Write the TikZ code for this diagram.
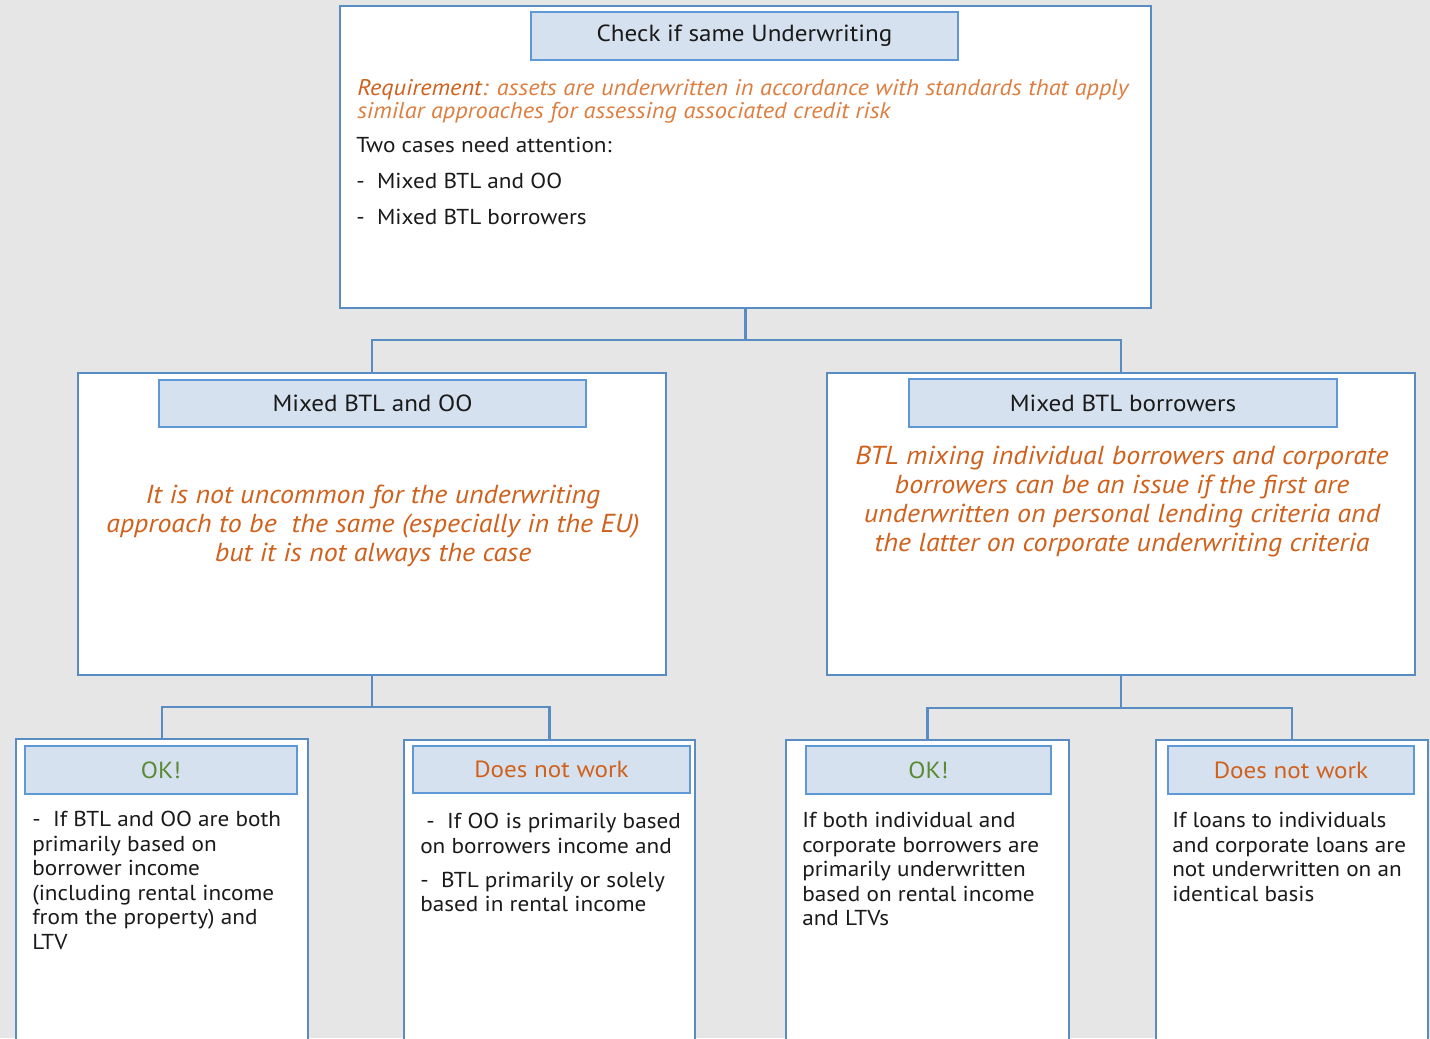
\documentclass[tikz,border=0pt]{standalone}
\usepackage{fontspec}
\setmainfont{PT Sans}[FakeStretch=1.075]
\definecolor{bg}{HTML}{E6E6E6}
\definecolor{bdr}{HTML}{5A8CC4}
\definecolor{hbdr}{HTML}{5E98D6}
\definecolor{hfill}{HTML}{D6E1EF}
\definecolor{orA}{HTML}{DD7E40}
\definecolor{orB}{HTML}{D0611C}
\definecolor{okg}{HTML}{5B8A34}
\definecolor{txt}{HTML}{1A1A1A}
\begin{document}
\begin{tikzpicture}[x=0.75pt,y=-0.75pt,
  sz/.style 2 args={minimum width=#1*0.75pt, minimum height=#2*0.75pt},
  box/.style={draw=bdr, fill=white, line width=1.5pt, anchor=north west, inner sep=0pt, outer sep=0pt, rectangle},
  hdr/.style={draw=hbdr, fill=hfill, line width=1.8pt, anchor=north west, inner sep=0pt, outer sep=0pt, rectangle, text=txt, font=\fontsize{17.5}{20}\selectfont},
  conn/.style={draw=bdr, line width=2pt},
  body/.style={anchor=north west, inner sep=0pt, align=left, text=txt, font=\fontsize{16.2}{18.4}\selectfont},
  midtxt/.style={inner sep=0pt, align=center, text=orB, font=\fontsize{19.5}{21.75}\selectfont\itshape}]
\useasboundingbox (0,0) rectangle (1430,1038);
\fill[bg] (0,0) rectangle (1430,1038);
\clip (0,0) rectangle (1430,1038);
% containers
\node[box, sz={811}{302}] (top) at (340,6) {};
\node[box, sz={588}{302}] (m1) at (78,373) {};
\node[box, sz={588}{302}] (m2) at (827,373) {};
\node[box, sz={292}{340}] (b1) at (16,739) {};
\node[box, sz={291}{340}] (b2) at (404,740) {};
\node[box, sz={283}{340}] (b3) at (786,740) {};
\node[box, sz={272}{340}] (b4) at (1156,740) {};
% connectors
\coordinate (j0) at (top.south |- 0,340);
\coordinate (j1) at (m1.south |- 0,707);
\coordinate (j2) at (m2.south |- 0,708);
\draw[conn] (top.south) -- (j0) -| (m1.north);
\draw[conn] (j0) -| (m2.north);
\draw[conn] (m1.south) -- (j1) -| (b1.north);
\draw[conn] (j1) -| (b2.north);
\draw[conn] (m2.south) -- (j2) -| (b3.north);
\draw[conn] (j2) -| (b4.north);
% headers
\node[hdr, sz={427}{48}] (h0) at (531,12) {Check if same Underwriting};
\node[hdr, sz={427}{47}] (h1) at (159,380) {Mixed BTL and OO};
\node[hdr, sz={428}{48}] (h2) at (909,379) {Mixed BTL borrowers};
\node[hdr, sz={272}{48}, text=okg] (hb1) at (25,746) {OK!};
\node[hdr, sz={277}{47}, text=orB] (hb2) at (413,746) {Does not work};
\node[hdr, sz={245}{48}, text=okg] (hb3) at (806,746) {OK!};
\node[hdr, sz={246}{48}, text=orB] (hb4) at (1168,746) {Does not work};
% top texts
\node[body, text=orA, font=\fontsize{17}{17.5}\selectfont\itshape] (req) at (357,79)
  {\textcolor{orB}{Requirement}: assets are underwritten in accordance with standards that apply\\
   similar approaches for assessing associated credit risk};
\node[body] (cases) at (356,137)
  {Two cases need attention:\\[8.4pt]
   -\ \ Mixed BTL and OO\\[8.4pt]
   -\ \ Mixed BTL borrowers};
% middle texts
\node[midtxt] (t1) at (373,526)
  {It is not uncommon for the underwriting\\
   approach to be\ \ the same (especially in the EU)\\
   but it is not always the case};
\node[midtxt] (t2) at (1122,502)
  {BTL mixing individual borrowers and corporate\\
   borrowers can be an issue if the first are\\
   underwritten on personal lending criteria and\\
   the latter on corporate underwriting criteria};
% bottom texts
\node[body] (tb1) at (32,811)
  {-\ \ If BTL and OO are both\\
   primarily based on\\
   borrower income\\
   (including rental income\\
   from the property) and\\
   LTV};
\node[body] (tb2) at (420,813)
  {\ -\ \ If OO is primarily based\\
   on borrowers income and\\[7pt]
   -\ \ BTL primarily or solely\\
   based in rental income};
\node[body] (tb3) at (802,812)
  {If both individual and\\
   corporate borrowers are\\
   primarily underwritten\\
   based on rental income\\
   and LTVs};
\node[body] (tb4) at (1172,812)
  {If loans to individuals\\
   and corporate loans are\\
   not underwritten on an\\
   identical basis};
\end{tikzpicture}
\end{document}
